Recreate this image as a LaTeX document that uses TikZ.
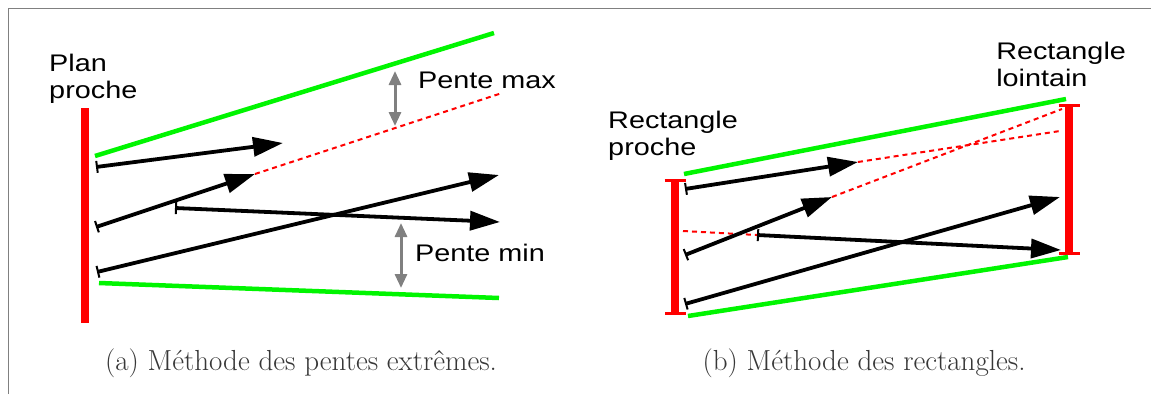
\documentclass[tikz,border=0pt]{standalone}
\usepackage{fontspec}
\newfontfamily\labfont{Liberation Sans}
\usetikzlibrary{arrows.meta}
\definecolor{vgreen}{RGB}{0,245,0}
\definecolor{vred}{RGB}{255,0,0}
\definecolor{capgray}{RGB}{55,55,55}
\tikzset{
  plane/.style={vred, line width=8pt},
  ibar/.style={vred, line width=8pt, {Bar[width=21pt,line width=3pt]}-{Bar[width=21pt,line width=3pt]}},
  bound/.style={vgreen, line width=4.5pt},
  vec/.style={black, line width=3.8pt, {Bar[width=12pt,line width=2pt]}-{Triangle[length=30pt,width=19pt]}},
  ext/.style={vred, line width=2pt, dash pattern=on 5pt off 4pt},
  gap/.style={gray, line width=3pt, {Triangle[length=14pt,width=12pt]}-{Triangle[length=14pt,width=12pt]}},
  lab/.style={font=\labfont\fontsize{24}{27}\selectfont, align=left, anchor=west, inner sep=0pt, xscale=1.2},
  captxt/.style={font=\fontsize{29}{31}\selectfont, text=capgray, inner sep=0pt},
  framestyle/.style={gray, line width=1pt}
}
\begin{document}
\begin{tikzpicture}[x=1pt,y=-1pt]
\useasboundingbox (0,0) rectangle (1151,394);
% frame
\coordinate (fA) at (8,394);
\coordinate (fB) at (8,8);
\coordinate (fC) at (1151,8);
\draw[framestyle] (fA) -- (fB) -- (fC);

% ---------- (a) ----------
\coordinate (pT) at (85,108);
\coordinate (pB) at (85,323);
\draw[plane] (pT) -- (pB);
\node[lab] (plan) at (49,79) {Plan\\proche};

\coordinate (gu1) at (95,156);
\coordinate (gu2) at (494,33);
\coordinate (gl1) at (99,283);
\coordinate (gl2) at (499,298);
\draw[bound] (gu1) -- (gu2);
\draw[bound] (gl1) -- (gl2);

\coordinate (a1s) at (96,167);
\coordinate (a1e) at (283,143);
\coordinate (a2s) at (96,227);
\coordinate (a2e) at (255,174);
\coordinate (a2x) at (502,93);
\coordinate (a3s) at (175,208);
\coordinate (a3e) at (500,222);
\coordinate (a4s) at (97,272);
\coordinate (a4e) at (499,175);
\draw[ext] (a2e) -- (a2x);
\draw[vec] (a1s) -- (a1e);
\draw[vec] (a2s) -- (a2e);
\draw[vec] (a3s) -- (a3e);
\draw[vec] (a4s) -- (a4e);

\coordinate (m1) at (395,71);
\coordinate (m2) at (395,126);
\coordinate (n1) at (401,223);
\coordinate (n2) at (401,288);
\draw[gap] (m1) -- (m2);
\draw[gap] (n1) -- (n2);
\node[lab] (pmax) at (418,80) {Pente max};
\node[lab] (pmin) at (415,253) {Pente min};

\node[captxt] (capa) at (301,363) {(a) Méthode des pentes extrêmes.};

% ---------- (b) ----------
\coordinate (rT) at (675,179);
\coordinate (rB) at (675,315);
\coordinate (lT) at (1069,104);
\coordinate (lB) at (1069,255);
\draw[ibar] (rT) -- (rB);
\draw[ibar] (lT) -- (lB);
\node[lab] (rp) at (608,136) {Rectangle\\proche};
\node[lab] (rl) at (996,64) {Rectangle\\lointain};

\coordinate (hu1) at (684,174);
\coordinate (hu2) at (1066,99);
\coordinate (hl1) at (688,316);
\coordinate (hl2) at (1068,257);
\draw[bound] (hu1) -- (hu2);
\draw[bound] (hl1) -- (hl2);

\coordinate (b1s) at (685,189);
\coordinate (b1e) at (858,162);
\coordinate (b1x) at (1060,131);
\coordinate (b2s) at (685,255);
\coordinate (b2e) at (832,197);
\coordinate (b2x) at (1062,109);
\coordinate (b3x) at (683,231);
\coordinate (b3s) at (757,235);
\coordinate (b3e) at (1061,250);
\coordinate (b4s) at (685,304);
\coordinate (b4e) at (1060,197);
\draw[ext] (b1e) -- (b1x);
\draw[ext] (b2e) -- (b2x);
\draw[ext] (b3x) -- (b3s);
\draw[vec] (b1s) -- (b1e);
\draw[vec] (b2s) -- (b2e);
\draw[vec] (b3s) -- (b3e);
\draw[vec] (b4s) -- (b4e);

\node[captxt] (capb) at (864,363) {(b) Méthode des rectangles.};
\end{tikzpicture}
\end{document}
